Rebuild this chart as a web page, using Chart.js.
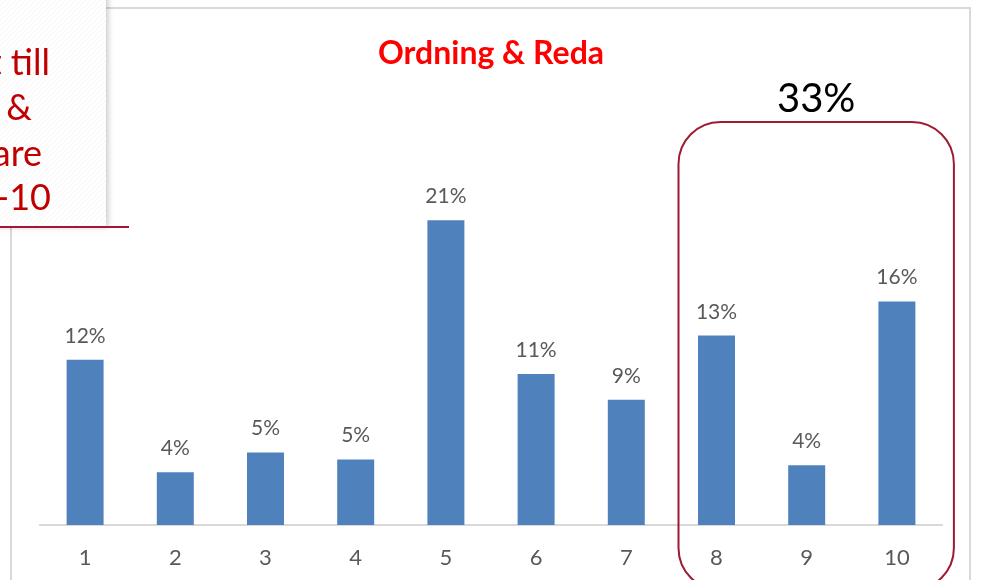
<!DOCTYPE html>
<html>
<head>
<meta charset="utf-8">
<script src="https://cdn.jsdelivr.net/npm/chart.js@4/dist/chart.umd.min.js"></script>
<style>
  html, body { margin: 0; padding: 0; background: #ffffff; }
  #wrap { width: 984px; height: 580px; position: relative; overflow: hidden; }
</style>
</head>
<body>
<div id="wrap"><canvas id="c" width="984" height="580"></canvas></div>
<script>
// ---- data ----
const categories = ['1', '2', '3', '4', '5', '6', '7', '8', '9', '10'];
const shares = [11.6, 3.7, 5.1, 4.6, 21.4, 10.6, 8.8, 13.3, 4.2, 15.7];
const highlighted = ['8', '9', '10'];
const titleText = 'Ordning & Reda';
const noteLines = ['Andel som svarat till', 'Ordning &', 'Reda, andel svarare', '8-10'];

Chart.defaults.font.family = 'Lato, "Open Sans", sans-serif';

const frame = {
  id: 'frame',
  beforeDraw(chart) {
    const ctx = chart.ctx;
    ctx.save();
    ctx.fillStyle = '#ffffff';
    ctx.fillRect(0, 0, chart.width, chart.height);
    ctx.strokeStyle = '#D9D9D9';
    ctx.lineWidth = 2;
    ctx.beginPath();
    ctx.moveTo(11, 590); ctx.lineTo(11, 8); ctx.lineTo(970, 8); ctx.lineTo(970, 590);
    ctx.stroke();
    ctx.restore();
  }
};

const barLabels = {
  id: 'barLabels',
  afterDatasetsDraw(chart) {
    const ctx = chart.ctx;
    const meta = chart.getDatasetMeta(0);
    ctx.save();
    ctx.fillStyle = '#595959';
    ctx.font = '21px Lato, "Open Sans", sans-serif';
    ctx.textAlign = 'center';
    ctx.textBaseline = 'alphabetic';
    meta.data.forEach((bar, i) => {
      ctx.fillText(Math.round(shares[i]) + '%', bar.x, bar.y - 17);
    });
    ctx.restore();
  }
};

const overlay = {
  id: 'overlay',
  afterDraw(chart) {
    const ctx = chart.ctx;
    const xs = chart.scales.x;
    // highlight box around the top categories
    const firstIdx = categories.indexOf(highlighted[0]);
    const lastIdx = categories.indexOf(highlighted[highlighted.length - 1]);
    const left = xs.getPixelForValue(firstIdx) - 38;
    const right = xs.getPixelForValue(lastIdx) + 57;
    const top = 122, bottom = 590, r = 42;
    ctx.save();
    ctx.strokeStyle = '#9E1B32';
    ctx.lineWidth = 2;
    ctx.beginPath();
    ctx.moveTo(left + r, top);
    ctx.lineTo(right - r, top);
    ctx.arcTo(right, top, right, top + r, r);
    ctx.lineTo(right, bottom - r);
    ctx.arcTo(right, bottom, right - r, bottom, r);
    ctx.lineTo(left + r, bottom);
    ctx.arcTo(left, bottom, left, bottom - r, r);
    ctx.lineTo(left, top + r);
    ctx.arcTo(left, top, left + r, top, r);
    ctx.closePath();
    ctx.stroke();

    // sum of highlighted shares
    let sum = 0;
    highlighted.forEach(h => { sum += shares[categories.indexOf(h)]; });
    ctx.fillStyle = '#000000';
    ctx.font = '40px Lato, "Open Sans", sans-serif';
    ctx.textAlign = 'center';
    ctx.textBaseline = 'alphabetic';
    ctx.fillText(Math.round(sum) + '%', (left + right) / 2, 112);

    // note box at top-left (partly outside the picture)
    ctx.save();
    ctx.shadowColor = 'rgba(0,0,0,0.22)';
    ctx.shadowBlur = 6;
    ctx.shadowOffsetX = 2;
    ctx.shadowOffsetY = 1;
    ctx.fillStyle = '#ffffff';
    ctx.fillRect(-20, -20, 126, 246);
    ctx.restore();
    // faint hatch
    ctx.save();
    ctx.beginPath();
    ctx.rect(0, 0, 106, 226);
    ctx.clip();
    ctx.strokeStyle = 'rgba(0,0,0,0.035)';
    ctx.lineWidth = 1;
    for (let k = -240; k < 140; k += 5) {
      ctx.beginPath();
      ctx.moveTo(k, 226);
      ctx.lineTo(k + 226, 0);
      ctx.stroke();
    }
    ctx.restore();
    ctx.strokeStyle = '#A31634';
    ctx.lineWidth = 2;
    ctx.beginPath();
    ctx.moveTo(0, 227); ctx.lineTo(129, 227);
    ctx.stroke();

    ctx.fillStyle = '#C00000';
    ctx.font = '36px Lato, "Open Sans", sans-serif';
    ctx.textAlign = 'right';
    const rights = [50, 32, 42, 51];
    const bases = [75, 120, 166, 210];
    noteLines.forEach((t, i) => ctx.fillText(t, rights[i], bases[i]));
    ctx.restore();
  }
};

new Chart(document.getElementById('c'), {
  type: 'bar',
  data: {
    labels: categories,
    datasets: [{
      data: shares,
      backgroundColor: '#4F81BD',
      borderWidth: 0,
      categoryPercentage: 1,
      barPercentage: 0.41
    }]
  },
  options: {
    responsive: false,
    animation: false,
    layout: { padding: { left: 40, right: 42, top: 0, bottom: 0 } },
    plugins: {
      legend: { display: false },
      tooltip: { enabled: false },
      title: {
        display: true,
        text: titleText,
        color: '#FF0000',
        font: { size: 32, weight: 'bold', lineHeight: 1.2 },
        padding: { top: 34, bottom: 96.6 }
      }
    },
    scales: {
      x: {
        grid: { display: false },
        border: { display: true, color: '#D9D9D9', width: 2 },
        ticks: { color: '#595959', font: { size: 22 }, padding: 12 },
        afterFit(scale) { scale.height = 55; }
      },
      y: {
        display: false,
        min: 0,
        max: 25
      }
    }
  },
  plugins: [frame, barLabels, overlay]
});
</script>
</body>
</html>
